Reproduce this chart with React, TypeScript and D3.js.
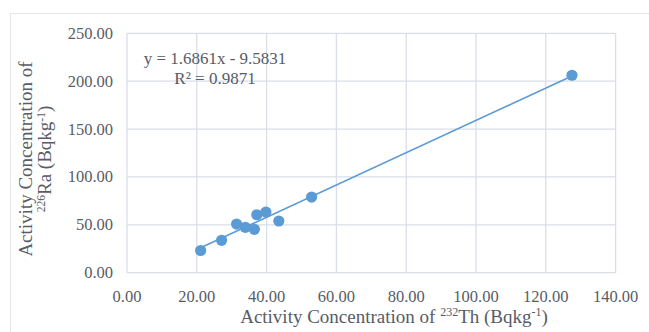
import React, { useEffect, useRef } from 'react';
import * as d3 from 'd3';

const thValues = [21.1, 27.1, 31.4, 33.9, 36.5, 37.2, 39.8, 43.5, 52.9, 127.5];
const raValues = [23.2, 33.8, 50.8, 47.4, 45.3, 60.5, 63.4, 54.0, 79.0, 206.2];
const slope = 1.6861;
const intercept = -9.5831;
const rSquared = 0.9871;
const xTicks = [0, 20, 40, 60, 80, 100, 120, 140];
const yTicks = [0, 50, 100, 150, 200, 250];

const W = 649;
const H = 332;
const textColor = '#575c66';
const gridColor = '#d9dee8';
const blue = '#5b9bd5';
const font = '"Liberation Serif", "Times New Roman", serif';

const drawChart = (node: SVGSVGElement) => {
  const svg = d3.select(node);
  svg.selectAll('*').remove();

  const x = d3.scaleLinear().domain([0, 140]).range([127, 615.6]);
  const y = d3.scaleLinear().domain([0, 250]).range([272.7, 33.3]);

  svg.append('rect').attr('width', W).attr('height', H).attr('fill', '#fff');

  // chart frame
  svg
    .append('rect')
    .attr('x', 10.5)
    .attr('y', 13.5)
    .attr('width', 660)
    .attr('height', 340)
    .attr('fill', 'none')
    .attr('stroke', '#e3e6ec')
    .attr('stroke-width', 1);

  // gridlines
  const grid = svg.append('g').attr('stroke', gridColor).attr('stroke-width', 1.3);
  grid
    .selectAll('line.v')
    .data(xTicks)
    .enter()
    .append('line')
    .attr('x1', d => x(d))
    .attr('x2', d => x(d))
    .attr('y1', y(0))
    .attr('y2', y(250));
  grid
    .selectAll('line.h')
    .data(yTicks)
    .enter()
    .append('line')
    .attr('x1', x(0))
    .attr('x2', x(140))
    .attr('y1', d => y(d))
    .attr('y2', d => y(d));

  // tick labels
  svg
    .append('g')
    .selectAll('text')
    .data(yTicks)
    .enter()
    .append('text')
    .attr('x', 113)
    .attr('y', d => y(d))
    .attr('dy', '0.33em')
    .attr('text-anchor', 'end')
    .style('font-family', font)
    .attr('font-size', 16.5)
    .attr('fill', textColor)
    .text(d => d.toFixed(2));

  svg
    .append('g')
    .selectAll('text')
    .data(xTicks)
    .enter()
    .append('text')
    .attr('x', d => x(d))
    .attr('y', 302)
    .attr('text-anchor', 'middle')
    .style('font-family', font)
    .attr('font-size', 16.5)
    .attr('fill', textColor)
    .text(d => d.toFixed(2));

  // trendline
  const [x0, x1] = d3.extent(thValues) as [number, number];
  svg
    .append('line')
    .attr('x1', x(x0))
    .attr('y1', y(slope * x0 + intercept))
    .attr('x2', x(x1))
    .attr('y2', y(slope * x1 + intercept))
    .attr('stroke', blue)
    .attr('stroke-width', 1.6);

  // points
  svg
    .append('g')
    .selectAll('circle')
    .data(thValues.map((t, i) => [t, raValues[i]]))
    .enter()
    .append('circle')
    .attr('cx', d => x(d[0]))
    .attr('cy', d => y(d[1]))
    .attr('r', 5.6)
    .attr('fill', blue);

  // equation
  const eq = svg
    .append('g')
    .style('font-family', font)
    .attr('font-size', 17)
    .attr('fill', textColor)
    .attr('text-anchor', 'middle');
  eq.append('text')
    .attr('x', 215)
    .attr('y', 64)
    .text(`y = ${slope}x - ${Math.abs(intercept)}`);
  eq.append('text')
    .attr('x', 215)
    .attr('y', 83.5)
    .text(`R² = ${rSquared}`);

  // x axis title
  const xt = svg
    .append('text')
    .attr('x', 394)
    .attr('y', 323)
    .attr('text-anchor', 'middle')
    .style('font-family', font)
    .attr('font-size', 19)
    .attr('fill', textColor);
  xt.append('tspan').text('Activity Concentration of ');
  xt.append('tspan').attr('font-size', 12).attr('dy', -7).text('232');
  xt.append('tspan').attr('dy', 7).text('Th (Bqkg');
  xt.append('tspan').attr('font-size', 12).attr('dy', -7).text('-1');
  xt.append('tspan').attr('dy', 7).text(')');

  // y axis title
  const yt = svg
    .append('g')
    .attr('transform', 'translate(32,159) rotate(-90)')
    .style('font-family', font)
    .attr('font-size', 19)
    .attr('fill', textColor)
    .attr('text-anchor', 'middle');
  yt.append('text').attr('x', 0).attr('y', 0).text('Activity Concentration of');
  const l2 = yt.append('text').attr('x', 0).attr('y', 19);
  l2.append('tspan').attr('font-size', 11.5).attr('dy', -6).text('226');
  l2.append('tspan').attr('dy', 6).text('Ra (Bqkg');
  l2.append('tspan').attr('font-size', 11.5).attr('dy', -6).text('-1');
  l2.append('tspan').attr('dy', 6).text(')');
};

export default function App() {
  const ref = useRef<SVGSVGElement>(null);
  useEffect(() => {
    if (ref.current) drawChart(ref.current);
  }, []);
  return (
    <svg
      ref={ref}
      width={W}
      height={H}
      style={{ position: 'absolute', left: 0, top: 0, display: 'block' }}
    />
  );
}
